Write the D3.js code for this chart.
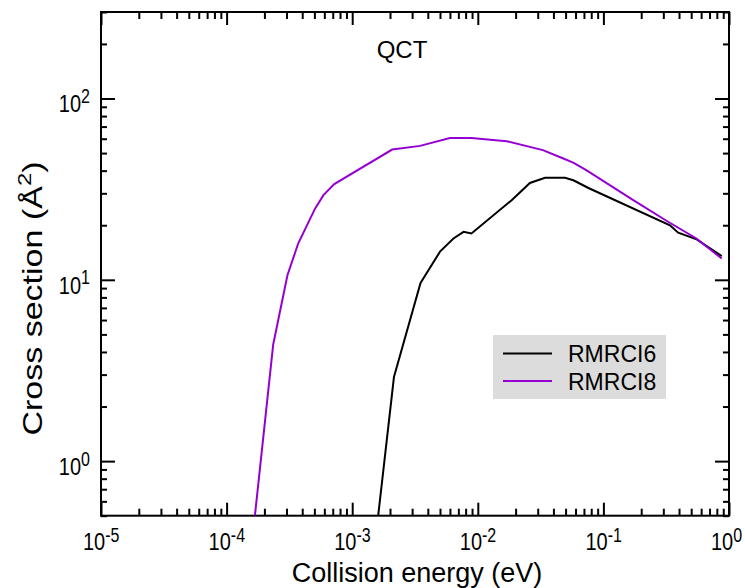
<!DOCTYPE html>
<html>
<head>
<meta charset="utf-8">
<script src="https://cdn.jsdelivr.net/npm/d3@7.9.0/dist/d3.min.js"></script>
<style>
  body { margin: 0; background: #fff; }
  svg text { font-family: "Liberation Sans", Arial, Helvetica, sans-serif; fill: #000; }
</style>
</head>
<body>
<svg id="chart" width="745" height="588"></svg>
<script>
// collision energies (eV) and cross sections (Å^2)
const energy6 = [1.61e-3, 2.15e-3, 3.5e-3, 5.0e-3, 6.4e-3, 7.7e-3, 8.9e-3, 1.86e-2, 2.6e-2, 3.43e-2, 4.94e-2, 5.77e-2, 7.6e-2, 0.339, 0.394, 0.553, 0.875];
const sigma6 = [0.5, 2.91, 9.6, 14.3, 16.9, 18.4, 18.0, 27.5, 34.2, 36.5, 36.5, 35.4, 32.1, 20.0, 18.2, 16.7, 13.5];

const energy8 = [1.68e-4, 2.35e-4, 3.05e-4, 3.72e-4, 5.06e-4, 5.9e-4, 7.2e-4, 2.08e-3, 3.47e-3, 6.0e-3, 8.9e-3, 1.7e-2, 3.3e-2, 4.8e-2, 5.8e-2, 7.3e-2, 0.173, 0.32, 0.55, 0.875];
const sigma8 = [0.5, 4.4, 10.6, 15.9, 24.7, 29.3, 33.7, 52.3, 54.8, 60.6, 60.6, 58.1, 51.9, 46.7, 44.2, 40.3, 27.5, 21.1, 16.9, 13.1];

const seriesNames = ['RMRCI6', 'RMRCI8'];
const seriesColors = ['#000000', '#9400d3'];

const xMajor = [1e-5, 1e-4, 1e-3, 1e-2, 1e-1, 1];
const xExponents = ['-5', '-4', '-3', '-2', '-1', '0'];
const yMajor = [1, 10, 100];
const yExponents = ['0', '1', '2'];

const svg = d3.select('#chart');
const plotLeft = 101, plotRight = 729, plotTop = 12, plotBottom = 515.7;

let x = d3.scaleLog().domain([1e-5, 1]).range([plotLeft, plotRight]);
let y = d3.scaleLog().domain([0.5, 300]).range([plotBottom, plotTop]);

// minor ticks 2..9 per decade
function minorTicks(lo, hi) {
  let out = [];
  for (let p = -6; p <= 3; p++) {
    for (let m = 2; m <= 9; m++) {
      let v = m * Math.pow(10, p);
      if (v >= lo * 0.9999 && v <= hi * 1.0001) out.push(v);
    }
  }
  return out;
}
const xMinor = minorTicks(1e-5, 1);
const yMinor = minorTicks(0.5, 300);

svg.append('clipPath').attr('id', 'plot-clip')
  .append('rect').attr('x', plotLeft).attr('y', plotTop)
  .attr('width', plotRight - plotLeft).attr('height', plotBottom - plotTop);

// axes with inward ticks on all four sides
function addAxis(axisFn, scale, vals, size, transform) {
  let g = svg.append('g')
    .attr('transform', transform)
    .call(axisFn(scale).tickValues(vals).tickSizeInner(size).tickSizeOuter(0).tickFormat(''));
  g.select('.domain').remove();
  g.selectAll('line').attr('stroke', '#000').attr('stroke-width', 2);
}
addAxis(d3.axisBottom, x, xMajor, -13, `translate(0,${plotBottom})`);
addAxis(d3.axisBottom, x, xMinor, -7, `translate(0,${plotBottom})`);
addAxis(d3.axisTop, x, xMajor, -13, `translate(0,${plotTop})`);
addAxis(d3.axisTop, x, xMinor, -7, `translate(0,${plotTop})`);
addAxis(d3.axisLeft, y, yMajor, -14, `translate(${plotLeft},0)`);
addAxis(d3.axisLeft, y, yMinor, -6, `translate(${plotLeft},0)`);
addAxis(d3.axisRight, y, yMajor, -14, `translate(${plotRight},0)`);
addAxis(d3.axisRight, y, yMinor, -6, `translate(${plotRight},0)`);

svg.append('rect')
  .attr('x', plotLeft).attr('y', plotTop)
  .attr('width', plotRight - plotLeft).attr('height', plotBottom - plotTop)
  .attr('fill', 'none').attr('stroke', '#000').attr('stroke-width', 2);

// tick labels 10^n (the original font is a bit taller than it is wide)
xMajor.forEach((v, i) => {
  let t = svg.append('text')
    .attr('transform', `translate(${x(v) - 18},550) scale(1,1.24)`)
    .style('font-size', '20px');
  t.append('tspan').text('10');
  t.append('tspan').attr('dy', -6.7).style('font-size', '16px').text(xExponents[i]);
});
yMajor.forEach((v, i) => {
  let t = svg.append('text')
    .attr('transform', `translate(90,${y(v) + 13.7}) scale(1,1.24)`)
    .attr('text-anchor', 'end')
    .style('font-size', '20px');
  t.append('tspan').text('10');
  t.append('tspan').attr('dy', -7.5).style('font-size', '16px').text(yExponents[i]);
});

// curves
let line = d3.line().x((d) => x(d[0])).y((d) => y(d[1]));
let series = [d3.zip(energy6, sigma6), d3.zip(energy8, sigma8)];
series.forEach((s, idx) => {
  svg.append('path')
    .attr('d', line(s))
    .attr('clip-path', 'url(#plot-clip)')
    .attr('fill', 'none')
    .attr('stroke', seriesColors[idx])
    .attr('stroke-width', 2);
});

// titles
svg.append('text').attr('x', 402).attr('y', 58).attr('text-anchor', 'middle')
  .style('font-size', '24px').text('QCT');

svg.append('text').attr('x', 417).attr('y', 582).attr('text-anchor', 'middle')
  .style('font-size', '27px').text('Collision energy (eV)');

let yt = svg.append('text')
  .attr('transform', 'translate(42,298.5) rotate(-90) scale(1.26,1)')
  .attr('text-anchor', 'middle')
  .style('font-size', '27px');
yt.append('tspan').text('Cross section (Å');
yt.append('tspan').attr('dy', -11).style('font-size', '19px').text('2');
yt.append('tspan').attr('dy', 11).text(')');

// legend
let legend = svg.append('g');
legend.append('rect')
  .attr('x', 493).attr('y', 335).attr('width', 173).attr('height', 64)
  .attr('fill', '#dcdcdc');
seriesNames.forEach((name, idx) => {
  let ly = 353.5 + idx * 27.5;
  legend.append('line')
    .attr('x1', 503).attr('x2', 552).attr('y1', ly).attr('y2', ly)
    .attr('stroke', seriesColors[idx]).attr('stroke-width', 2);
  legend.append('text')
    .attr('x', 568).attr('y', ly + 8.5)
    .style('font-size', '23px')
    .text(name);
});
</script>
</body>
</html>
